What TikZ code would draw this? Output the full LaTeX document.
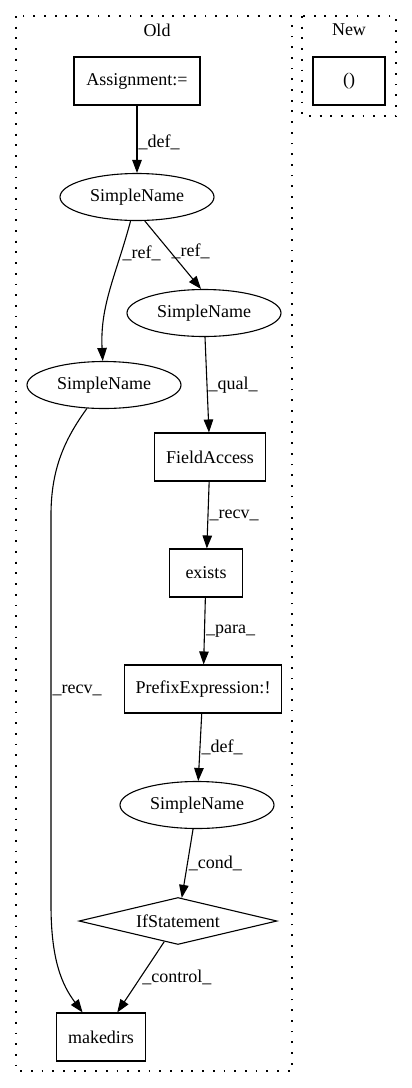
\documentclass[tikz,border=0pt]{standalone}
\usepackage{fontspec}
\setmainfont{Liberation Serif}
\usetikzlibrary{arrows.meta,shapes.geometric}
\begin{document}
\begin{tikzpicture}[x=1pt,y=1pt,
  every node/.style={font=\fontsize{18}{21}\selectfont},
  boxnode/.style={draw,line width=1.1pt,rectangle,minimum height=48pt,inner sep=0pt},
  ellnode/.style={draw,line width=1.1pt,ellipse,minimum width=154pt,minimum height=47pt,inner sep=0pt},
  dianode/.style={draw,line width=1.1pt,diamond,aspect=4.2,minimum width=198pt,minimum height=47pt,inner sep=0pt},
  edge/.style={line width=1.1pt,-{Triangle[length=13pt,width=9.5pt]}},
  lbl/.style={anchor=west,inner sep=1pt},
  cluster/.style={line width=1.3pt,dash pattern=on 1.8pt off 8.9pt}]
\useasboundingbox (0,0) rectangle (412,-1088);
% clusters
\draw[cluster] (16,-16) rectangle (292,-1071);
\draw[cluster] (302,-16) rectangle (396,-116);
\node (oldt) at (157,-30) {Old};
\node (newt) at (349,-30) {New};
% nodes
\node[boxnode,minimum width=126pt] (asg) at (137,-81) {Assignment:=};
\node[boxnode,minimum width=72pt] (par) at (349,-81) {()};
\node[ellnode] (sn1) at (137,-197) {SimpleName};
\node[ellnode] (sn2) at (204,-313) {SimpleName};
\node[ellnode] (sn3) at (104,-385) {SimpleName};
\node[boxnode,minimum width=111pt] (fa) at (210,-457) {FieldAccess};
\node[boxnode,minimum width=73pt] (ex) at (206,-573) {exists};
\node[boxnode,minimum width=157pt] (pre) at (203,-689) {PrefixExpression:!};
\node[ellnode] (sn4) at (197,-805) {SimpleName};
\node[dianode] (ifs) at (178,-921) {IfStatement};
\node[boxnode,minimum width=89pt] (mk) at (101,-1037) {makedirs};
% edges
\draw[edge] (asg) -- node[lbl,pos=0.55]{\_def\_} (sn1);
\draw[edge] (sn1) to[out=-105,in=93] node[lbl,pos=0.22]{\_ref\_} (sn3);
\draw[edge] (sn1.-72) -- node[lbl,pos=0.45]{\_ref\_} (sn2.97);
\draw[edge] (sn2) -- node[lbl,pos=0.5]{\_qual\_} (fa);
\draw[edge] (fa) -- node[lbl,pos=0.5]{\_recv\_} (ex);
\draw[edge] (ex) -- node[lbl,pos=0.5]{\_para\_} (pre);
\draw[edge] (pre) -- node[lbl,pos=0.5]{\_def\_} (sn4);
\draw[edge] (sn4) -- node[lbl,pos=0.5]{\_cond\_} (ifs);
\draw[edge] (ifs) -- node[lbl,pos=0.5]{\_control\_} (mk);
\draw[edge] (sn3) .. controls (64,-440) and (51,-470) .. (51,-515)
  -- node[lbl,pos=0.45]{\_recv\_} (51,-905)
  .. controls (51,-960) and (62,-985) .. (mk);
\end{tikzpicture}
\end{document}
